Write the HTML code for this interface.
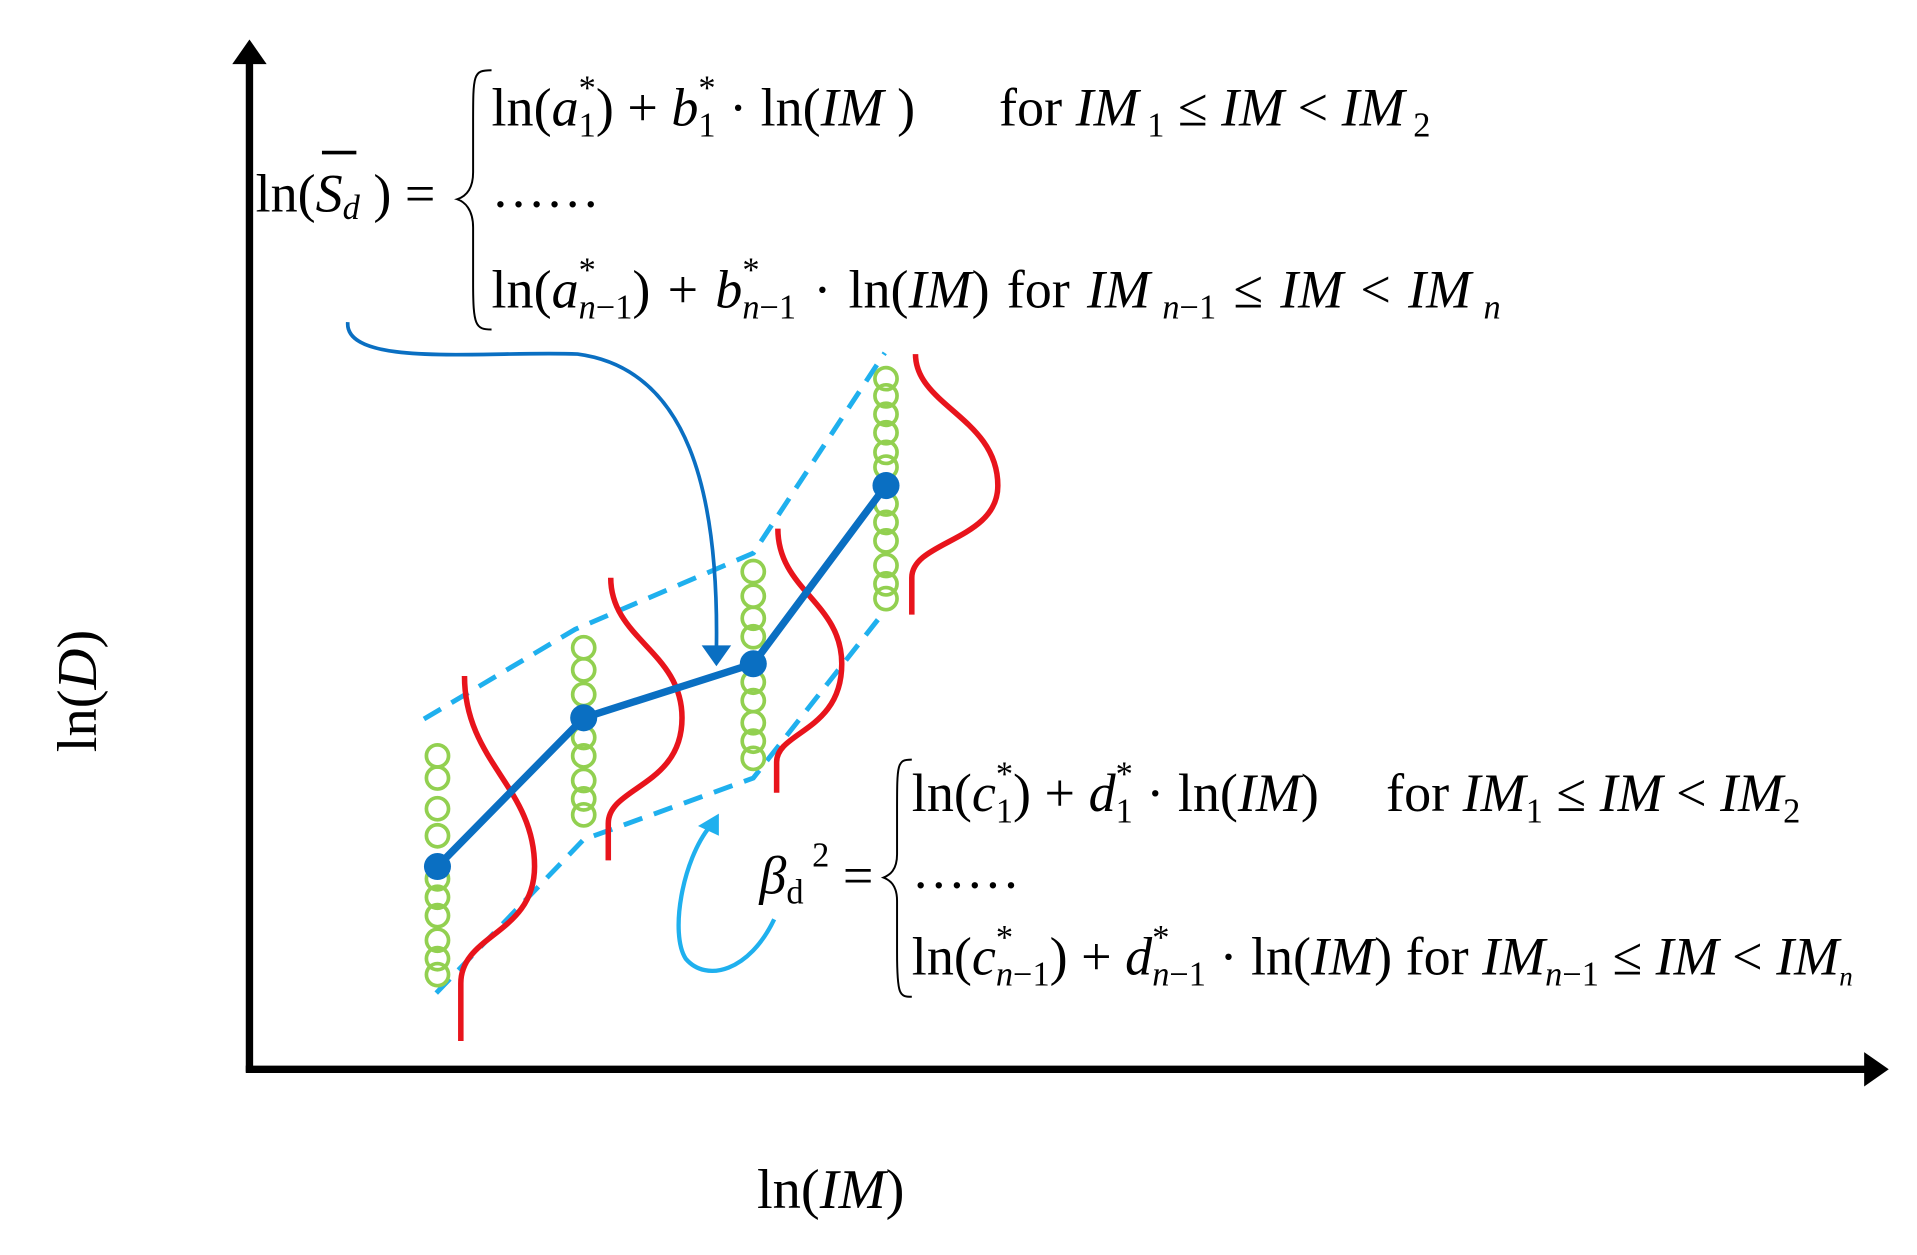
<!DOCTYPE html>
<html><head><meta charset="utf-8"><style>
html,body{margin:0;padding:0;background:#fff;}
svg{display:block;}
text{font-family:"Liberation Serif",serif;fill:#000;}
.i{font-style:italic;}
</style></head><body>
<svg width="1917" height="1255" viewBox="0 0 1560 1021" xmlns="http://www.w3.org/2000/svg">
<line x1="203" y1="48" x2="203" y2="872" stroke="#000" stroke-width="6"/>
<polygon points="203,32 189,52 217,52" fill="#000"/>
<line x1="200" y1="870" x2="1520" y2="870" stroke="#000" stroke-width="6"/>
<polygon points="1537,870 1517,856 1517,884" fill="#000"/>

<polyline points="345,585 468,512 613,450 720,287" fill="none" stroke="#1fb0ee" stroke-width="4" stroke-dasharray="16,10"/>
<polyline points="355,808 475,683 613,633 720,497" fill="none" stroke="#1fb0ee" stroke-width="4" stroke-dasharray="16,10"/>

<g fill="none" stroke="#92d050" stroke-width="3">
<circle cx="356" cy="615" r="9"/><circle cx="356" cy="633" r="9"/><circle cx="356" cy="658" r="9"/><circle cx="356" cy="680" r="9"/><circle cx="356" cy="715" r="9"/><circle cx="356" cy="730" r="9"/><circle cx="356" cy="745" r="9"/><circle cx="356" cy="765" r="9"/><circle cx="356" cy="780" r="9"/><circle cx="356" cy="793" r="9"/>
<circle cx="475" cy="527" r="9"/><circle cx="475" cy="545" r="9"/><circle cx="475" cy="565" r="9"/><circle cx="475" cy="600" r="9"/><circle cx="475" cy="615" r="9"/><circle cx="475" cy="635" r="9"/><circle cx="475" cy="650" r="9"/><circle cx="475" cy="663" r="9"/>
<circle cx="613" cy="465" r="9"/><circle cx="613" cy="485" r="9"/><circle cx="613" cy="503" r="9"/><circle cx="613" cy="518" r="9"/><circle cx="613" cy="555" r="9"/><circle cx="613" cy="570" r="9"/><circle cx="613" cy="588" r="9"/><circle cx="613" cy="603" r="9"/><circle cx="613" cy="617" r="9"/>
<circle cx="721" cy="308" r="9"/><circle cx="721" cy="322" r="9"/><circle cx="721" cy="337" r="9"/><circle cx="721" cy="352" r="9"/><circle cx="721" cy="368" r="9"/><circle cx="721" cy="380" r="9"/><circle cx="721" cy="410" r="9"/><circle cx="721" cy="425" r="9"/><circle cx="721" cy="440" r="9"/><circle cx="721" cy="460" r="9"/><circle cx="721" cy="475" r="9"/><circle cx="721" cy="487" r="9"/>
</g>

<g fill="none" stroke="#e8141c" stroke-width="4.5">
<path d="M375,847 L375,800 C375,760 435,760 435,705 C435,640 378,620 378,550"/>
<path d="M495,700 L495,670 C495,640 555,640 555,584 C555,530 497,520 497,470"/>
<path d="M632,645 L632,620 C632,595 685,595 685,540 C685,490 633,480 633,430"/>
<path d="M742,500 L742,470 C742,440 812,440 812,395 C812,340 745,330 745,288"/>
</g>

<polyline points="356,705 475,584 613,540 721,395" fill="none" stroke="#0a6fc2" stroke-width="6"/>
<g fill="#0a6fc2"><circle cx="356" cy="705" r="11"/><circle cx="475" cy="584" r="11"/><circle cx="613" cy="540" r="11"/><circle cx="721" cy="395" r="11"/></g>

<path d="M283,262 C280,300 400,285 470,288 C560,300 585,400 583,528" fill="none" stroke="#0a6fc2" stroke-width="3"/>
<polygon points="583,542 571,525 595,525" fill="#0a6fc2"/>
<path d="M630,748 C610,790 575,800 558,780 C545,760 555,700 578,672" fill="none" stroke="#1fb0ee" stroke-width="3.5"/>
<polygon points="585,662 568,672 585,680" fill="#1fb0ee"/>

<text x="208" y="172" font-size="44">ln(<tspan class="i">S</tspan><tspan class="i" font-size="28" dy="6">d</tspan><tspan dy="-6"> ) =</tspan></text>
<line x1="262" y1="124" x2="290" y2="124" stroke="#000" stroke-width="3"/>
<path d="M400,57 C385,57 385,60 385,100 L385,140 C385,155 378,160 372,162 C378,164 385,170 385,185 L385,230 C385,265 387,268 400,268" fill="none" stroke="#000" stroke-width="1.6"/>
<text x="400" y="102" font-size="44">ln(<tspan class="i">a</tspan><tspan font-size="28" dy="-21">*</tspan><tspan font-size="28" dx="-14" dy="30">1</tspan><tspan dy="-9">) + </tspan><tspan class="i">b</tspan><tspan font-size="28" dy="-21">*</tspan><tspan font-size="28" dx="-14" dy="30">1</tspan><tspan dy="-9"> · ln(</tspan><tspan class="i">IM</tspan> )</text>
<text x="813" y="102" font-size="44">for  <tspan class="i">IM</tspan><tspan font-size="28" dy="9"> 1</tspan><tspan dy="-9"> ≤ </tspan><tspan class="i">IM</tspan> &lt; <tspan class="i">IM</tspan><tspan font-size="28" dy="9"> 2</tspan></text>
<text x="400" y="168" font-size="44">……</text>
<text x="400" y="250" font-size="44" word-spacing="3">ln(<tspan class="i">a</tspan><tspan font-size="28" dy="-21">*</tspan><tspan font-size="28" dx="-14" dy="30"><tspan class="i">n</tspan>−1</tspan><tspan dy="-9">) + </tspan><tspan class="i">b</tspan><tspan font-size="28" dy="-21">*</tspan><tspan font-size="28" dx="-14" dy="30"><tspan class="i">n</tspan>−1</tspan><tspan dy="-9"> · ln(</tspan><tspan class="i">IM</tspan>) for  <tspan class="i">IM</tspan><tspan font-size="28" dy="9"> <tspan class="i">n</tspan>−1</tspan><tspan dy="-9"> ≤ </tspan><tspan class="i">IM</tspan>  &lt; <tspan class="i">IM</tspan><tspan class="i" font-size="28" dy="9"> n</tspan></text>

<text x="618" y="727" font-size="44"><tspan class="i">β</tspan><tspan font-size="28" dy="8">d</tspan><tspan font-size="28" dy="-30"> 2</tspan><tspan dy="22"> =</tspan></text>
<path d="M742,618 C730,618 730,621 730,660 L730,695 C730,708 724,712 719,714 C724,716 730,720 730,733 L730,775 C730,810 732,811 742,811" fill="none" stroke="#000" stroke-width="1.6"/>
<text x="742" y="660" font-size="44">ln(<tspan class="i">c</tspan><tspan font-size="28" dy="-21">*</tspan><tspan font-size="28" dx="-14" dy="30">1</tspan><tspan dy="-9">) + </tspan><tspan class="i">d</tspan><tspan font-size="28" dy="-21">*</tspan><tspan font-size="28" dx="-14" dy="30">1</tspan><tspan dy="-9"> · ln(</tspan><tspan class="i">IM</tspan>)</text>
<text x="1128" y="660" font-size="44">for  <tspan class="i">IM</tspan><tspan font-size="28" dy="9">1</tspan><tspan dy="-9"> ≤ </tspan><tspan class="i">IM</tspan> &lt; <tspan class="i">IM</tspan><tspan font-size="28" dy="9">2</tspan></text>
<text x="742" y="722" font-size="44">……</text>
<text x="742" y="793" font-size="44">ln(<tspan class="i">c</tspan><tspan font-size="28" dy="-21">*</tspan><tspan font-size="28" dx="-14" dy="30"><tspan class="i">n</tspan>−1</tspan><tspan dy="-9">) + </tspan><tspan class="i">d</tspan><tspan font-size="28" dy="-21">*</tspan><tspan font-size="28" dx="-14" dy="30"><tspan class="i">n</tspan>−1</tspan><tspan dy="-9"> · ln(</tspan><tspan class="i">IM</tspan>) for  <tspan class="i">IM</tspan><tspan font-size="28" dy="9"><tspan class="i">n</tspan>−1</tspan><tspan dy="-9"> ≤ </tspan><tspan class="i">IM</tspan> &lt; <tspan class="i">IM</tspan><tspan class="i" font-size="22" dy="9">n</tspan></text>

<text x="616" y="983" font-size="46">ln(<tspan class="i">IM</tspan>)</text>
<text transform="translate(78,612) rotate(-90)" font-size="46">ln(<tspan class="i">D</tspan>)</text>
</svg>
</body></html>
